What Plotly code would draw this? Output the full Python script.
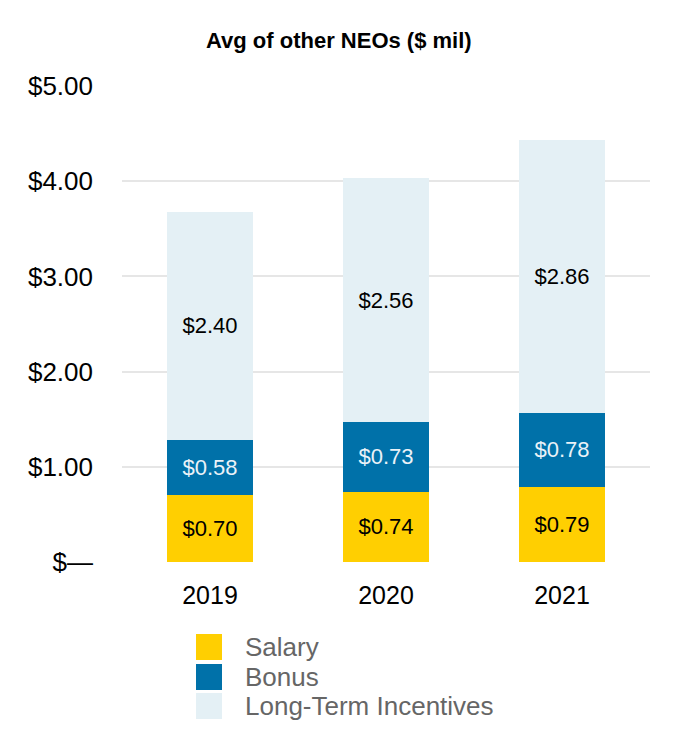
import plotly.graph_objects as go

years = ["2019", "2020", "2021"]
salary = [0.70, 0.74, 0.79]
bonus = [0.58, 0.73, 0.78]
lti = [2.40, 2.56, 2.86]
series_names = ["Salary", "Bonus", "Long-Term Incentives"]
colors = ["#FFCF01", "#0071A9", "#E4F0F5"]
text_colors = ["#000000", "#EAF2F8", "#000000"]
tick_vals = [0, 1, 2, 3, 4, 5]
tick_text = ["$\u2014", "$1.00", "$2.00", "$3.00", "$4.00", "$5.00"]

FONT = "Liberation Sans, Arial, sans-serif"

fig = go.Figure()
for name, vals, c, tc in zip(series_names, [salary, bonus, lti], colors, text_colors):
    fig.add_trace(go.Bar(
        x=years, y=vals, name=name, marker=dict(color=c, line=dict(width=0)),
        texttemplate="$%{y:.2f}", textposition="inside", insidetextanchor="middle",
        textangle=0, constraintext="none",
        insidetextfont=dict(family=FONT, size=22, color=tc),
        hoverinfo="skip", showlegend=False, width=0.49,
    ))

# custom legend
leg_y = [647, 677, 706]
for name, c, yc in zip(series_names, colors, leg_y):
    fig.add_shape(type="rect", xref="paper", yref="paper",
                  x0=(196 - 122) / 528, x1=(222 - 122) / 528,
                  y0=(562 - (yc + 13)) / 476, y1=(562 - (yc - 13)) / 476,
                  fillcolor=c, line=dict(width=0))
    fig.add_annotation(xref="paper", yref="paper", x=(243 - 122) / 528,
                       y=(562 - yc) / 476, text=name, showarrow=False,
                       xanchor="left", yanchor="middle",
                       font=dict(family=FONT, size=26, color="#666666"))

fig.add_annotation(xref="paper", yref="paper", x=(339 - 122) / 528, y=(562 - 41) / 476,
                   text="<b>Avg of other NEOs ($ mil)</b>", showarrow=False,
                   xanchor="center", yanchor="middle",
                   font=dict(family=FONT, size=22, color="#000000"))

fig.update_layout(
    barmode="stack", width=680, height=750,
    margin=dict(l=122, r=30, t=86, b=188),
    paper_bgcolor="white", plot_bgcolor="white",
    font=dict(family=FONT, color="#000000"),
    xaxis=dict(showgrid=False, showline=False, ticks="", tickfont=dict(size=25, family=FONT),
               ticklabelstandoff=16),
    yaxis=dict(range=[0, 5], tickvals=tick_vals, ticktext=tick_text, showgrid=True,
               gridcolor="#E6E6E6", gridwidth=2, zeroline=False, showline=False,
               tickfont=dict(size=26, family=FONT), ticklabelstandoff=28),
    bargap=0.51,
)

fig.write_html("out.html")
